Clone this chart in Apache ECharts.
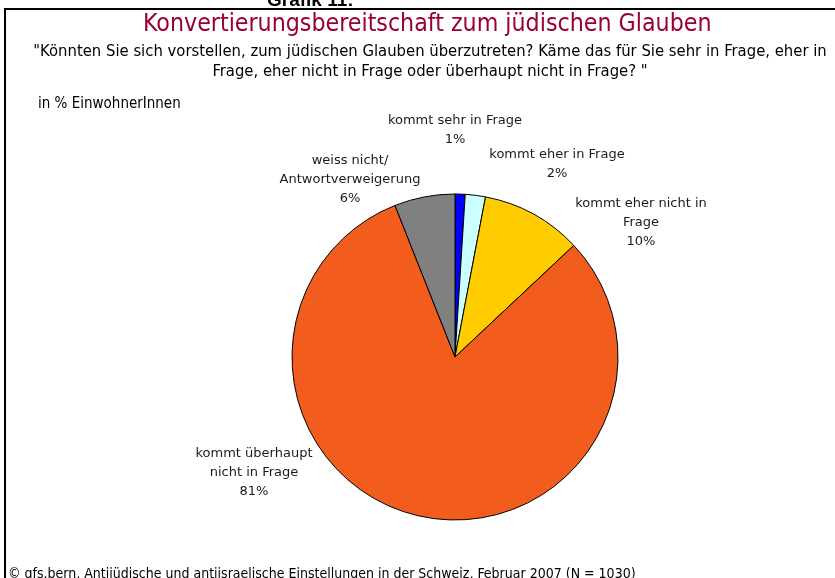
<!DOCTYPE html>
<html>
<head>
<meta charset="utf-8">
<script src="https://cdn.jsdelivr.net/npm/echarts@6/dist/echarts.min.js"></script>
<style>
  html, body { margin: 0; padding: 0; background: #fff; }
  #chart { width: 835px; height: 578px; }
</style>
</head>
<body>
<div id="chart"></div>
<script>
// answers, clockwise from 12 o'clock
var answers = [
    'kommt sehr in Frage',
    'kommt eher in Frage',
    'kommt eher nicht in\nFrage',
    'kommt überhaupt\nnicht in Frage',
    'weiss nicht/\nAntwortverweigerung'
];
var shares = [1, 2, 10, 81, 6];
var sliceColors = ['#0000ff', '#ccffff', '#ffcc00', '#f25c1c', '#808080'];

// where Excel put the labels (label centres)
var labelSpots = [[455, 130], [557, 164], [641, 223], [254, 473], [350, 180]];

var narrow = "'Liberation Sans Narrow', 'DejaVu Sans Condensed', sans-serif";
var labelFont = "'DejaVu Sans', Verdana, sans-serif";

var chart = echarts.init(document.getElementById('chart'));

var data = [];
for (var i = 0; i < answers.length; i++) {
    data.push({name: answers[i], value: shares[i], itemStyle: {color: sliceColors[i]}});
}

var option = {
    backgroundColor: '#fff',
    animation: false,
    title: [
        {
            text: 'Grafik 11:',
            left: 262, top: -14,
            textStyle: {fontFamily: 'Liberation Sans, Arial, sans-serif', fontSize: 19, fontWeight: 'bold', color: '#000'}
        },
        {
            text: 'Konvertierungsbereitschaft zum jüdischen Glauben',
            left: 138, top: 7,
            textStyle: {fontFamily: narrow, fontSize: 24.7, fontWeight: 'normal', color: '#990033'}
        },
        {
            text: '"Könnten Sie sich vorstellen, zum jüdischen Glauben überzutreten? Käme das für Sie sehr in Frage, eher in\nFrage, eher nicht in Frage oder überhaupt nicht in Frage? "',
            left: 425, top: 37,
            textAlign: 'center',
            textStyle: {fontFamily: narrow, fontSize: 16.5, fontWeight: 'normal', color: '#000', lineHeight: 20}
        },
        {
            text: 'in % EinwohnerInnen',
            left: 33, top: 92,
            textStyle: {fontFamily: narrow, fontSize: 15, fontWeight: 'normal', color: '#000'}
        },
        {
            text: '© gfs.bern, Antijüdische und antiisraelische Einstellungen in der Schweiz, Februar 2007 (N = 1030)',
            left: 3, top: 562,
            textStyle: {fontFamily: narrow, fontSize: 14, fontWeight: 'normal', color: '#000'}
        }
    ],
    graphic: [
        {
            type: 'rect',
            shape: {x: 5, y: 9, width: 840, height: 600},
            style: {fill: 'none', stroke: '#000', lineWidth: 2},
            z: -1
        }
    ],
    series: [
        {
            type: 'pie',
            center: [455, 357],
            radius: 163,
            startAngle: 90,
            clockwise: true,
            avoidLabelOverlap: false,
            itemStyle: {borderColor: '#000', borderWidth: 1},
            label: {
                show: true,
                position: 'outside',
                fontFamily: labelFont,
                fontSize: 13,
                color: '#1a1a1a',
                lineHeight: 19,
                align: 'center',
                formatter: function (p) {
                    return p.name + '\n' + p.value + '%';
                }
            },
            labelLine: {show: false},
            labelLayout: function (params) {
                var s = labelSpots[params.dataIndex];
                return {x: s[0], y: s[1], align: 'center', verticalAlign: 'middle'};
            },
            emphasis: {disabled: true},
            data: data
        }
    ]
};
chart.setOption(option);
</script>
</body>
</html>
